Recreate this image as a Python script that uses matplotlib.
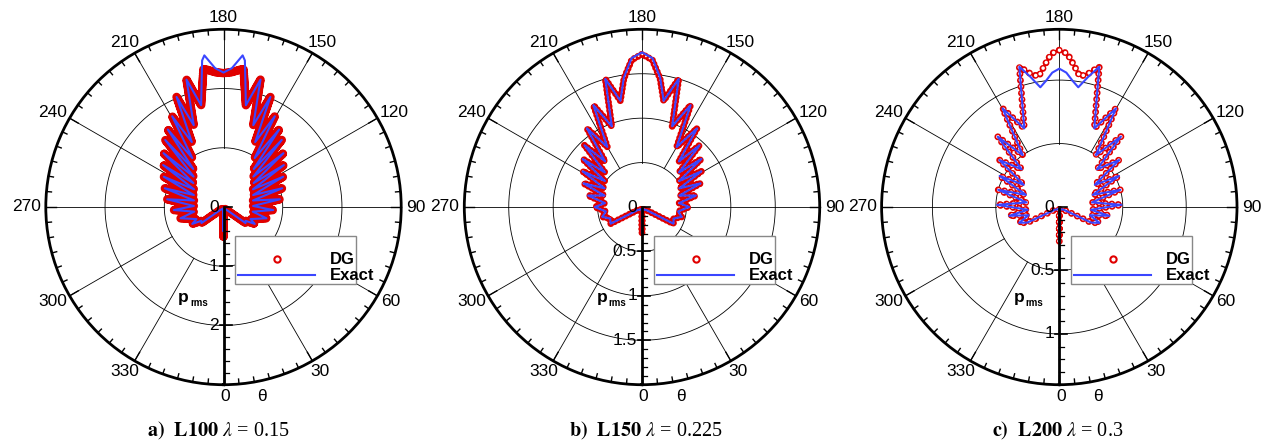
import numpy as np
import matplotlib.pyplot as plt
from matplotlib.patches import Rectangle

plt.rcParams['font.family'] = ['Liberation Sans', 'DejaVu Sans']
plt.rcParams['mathtext.fontset'] = 'stix'

# --- DATA (half pattern, theta 0..180 deg; the plots are mirror symmetric) ---
theta_a = [0, 2, 25, 48, 54, 58, 61.6, 66, 75.3, 81, 86.5, 92, 97.8, 102.5, 107.7, 112,
           116.9, 121, 124.8, 128.5, 131.9, 135.5, 139, 141.5, 144.3, 147.5, 150.5, 154,
           156.9, 160, 163.8, 167.6, 171.7, 172.8, 176.5, 180]
exact_a = [0.40, 0.04, 0.03, 0.08, 0.46, 0.44, 0.60, 0.50, 0.75, 0.50, 0.84, 0.50, 0.96,
           0.51, 1.04, 0.54, 1.13, 0.58, 1.24, 0.65, 1.36, 0.72, 1.50, 0.82, 1.61, 0.98,
           1.76, 1.22, 2.02, 1.47, 2.24, 1.76, 2.50, 2.58, 2.35, 2.27]
dg_a = [0.50, 0.04, 0.03, 0.08, 0.46, 0.44, 0.60, 0.50, 0.75, 0.50, 0.84, 0.50, 0.96,
        0.51, 1.04, 0.54, 1.13, 0.58, 1.24, 0.65, 1.36, 0.72, 1.50, 0.82, 1.61, 0.98,
        1.76, 1.22, 2.02, 1.47, 2.24, 1.76, 2.35, 2.34, 2.28, 2.26]

theta_b = [0, 2, 30, 55, 62, 70, 76, 83, 90, 96, 102, 107, 112, 116.5, 121, 125, 129,
           133, 137, 141, 145, 150, 154.5, 159.5, 164, 168.5, 172, 176, 180]
exact_b = [0.29, 0.03, 0.03, 0.06, 0.40, 0.38, 0.46, 0.41, 0.53, 0.42, 0.62, 0.44, 0.71,
           0.47, 0.78, 0.51, 0.86, 0.57, 0.95, 0.66, 1.08, 0.78, 1.27, 0.97, 1.50, 1.22,
           1.47, 1.68, 1.74]
dg_b = [0.29, 0.03, 0.03, 0.06, 0.40, 0.38, 0.46, 0.41, 0.53, 0.42, 0.62, 0.44, 0.71,
        0.47, 0.78, 0.51, 0.86, 0.57, 0.95, 0.66, 1.08, 0.78, 1.27, 0.97, 1.50, 1.22,
        1.46, 1.66, 1.72]

theta_c = [0, 1.5, 30, 58, 64, 68.5, 75, 80, 85, 92, 98, 105.7, 110, 117.5, 122, 128.1,
           135, 138.8, 144.8, 150.1, 156, 164.1, 167.5, 171, 174, 177, 180]
exact_c = [0.27, 0.02, 0.02, 0.04, 0.28, 0.34, 0.25, 0.40, 0.25, 0.49, 0.26, 0.50, 0.28,
           0.53, 0.33, 0.60, 0.42, 0.737, 0.50, 0.896, 0.678, 1.149, 1.05, 0.955, 1.00,
           1.06, 1.09]
dg_c = [0.27, 0.02, 0.02, 0.04, 0.28, 0.34, 0.25, 0.40, 0.25, 0.49, 0.26, 0.50, 0.28,
        0.53, 0.33, 0.60, 0.42, 0.737, 0.50, 0.896, 0.678, 1.149, 1.08, 1.04, 1.12,
        1.21, 1.236]

r_max = [3.0, 2.0, 1.4]
r_circles = [[1, 2], [0.5, 1.0, 1.5], [0.5, 1.0]]
r_major = [[0, 1, 2], [0, 0.5, 1, 1.5], [0, 0.5, 1]]
r_labels = [['0', '1', '2'], ['0', '0.5', '1', '1.5'], ['0', '0.5', '1']]
r_minor_step = [0.2, 0.1, 0.1]
captions = [r'$\mathbf{a)}$  $\mathbf{L100}$ $\lambda$ = 0.15',
            r'$\mathbf{b)}$  $\mathbf{L150}$ $\lambda$ = 0.225',
            r'$\mathbf{c)}$  $\mathbf{L200}$ $\lambda$ = 0.3']
theta_ticks = list(range(0, 360, 30))

# --- LAYOUT (pixels) ---
W, H = 1266, 441
CX = [223.5, 642.0, 1059.3]
CY = 207.0
R = 177.7
cap_x = [218, 646, 1058]
# DG symbols: ring size (pt), hole size (pt), spacing along the curve (pt)
ring_lw = [6.2, 5.0, 5.0]
hole_lw = [0.0, 1.4, 2.6]
ring_gap = [1.5, 3.0, 4.6]

RED = '#e00000'
BLUE = '#3a46ff'

fig = plt.figure(figsize=(W / 100, H / 100), dpi=100)


def mirror(th, r):
    th = np.asarray(th, float)
    r = np.asarray(r, float)
    full_t = np.concatenate([th, 360 - th[-2::-1]])
    full_r = np.concatenate([r, r[-2::-1]])
    return np.deg2rad(full_t), full_r


data = [(theta_a, exact_a, dg_a), (theta_b, exact_b, dg_b), (theta_c, exact_c, dg_c)]

for i in range(3):
    cx = CX[i]
    rect = [(cx - R) / W, (H - CY - R) / H, 2 * R / W, 2 * R / H]
    ax = fig.add_axes(rect, projection='polar')
    ax.set_theta_zero_location('S')
    ax.set_theta_direction(1)
    rm = r_max[i]
    ax.set_ylim(0, rm)
    ax.grid(False)
    ax.set_xticks([])
    ax.set_yticks([])
    ax.spines['polar'].set_linewidth(2.0)

    tt = np.linspace(0, 2 * np.pi, 400)
    for rc in r_circles[i]:
        ax.plot(tt, np.full_like(tt, rc), color='black', lw=0.6, zorder=1)
    for t in theta_ticks:
        ax.plot([np.deg2rad(t)] * 2, [r_circles[i][0], rm], color='black', lw=0.6, zorder=1)
    # ticks on outer circle
    for t in range(0, 360, 5):
        ln = 10 if t % 30 == 0 else 5
        ax.plot([np.deg2rad(t)] * 2, [rm * (1 - ln / R), rm], color='black', lw=1.0,
                zorder=2, clip_on=False)

    th, ex, dg = data[i]
    t1, r1 = mirror(th, dg)
    t2, r2 = mirror(th, ex)
    # DG: chain of open red circles along the curve
    gap = ring_gap[i]
    ax.plot(t1, r1, color=RED, lw=ring_lw[i], zorder=3, dashes=(0.001, gap / ring_lw[i]),
            dash_capstyle='round', dash_joinstyle='round')
    if hole_lw[i] > 0:
        ax.plot(t1, r1, color='white', lw=hole_lw[i], zorder=3,
                dashes=(0.001, gap / hole_lw[i]), dash_capstyle='round')
    ax.plot(t2, r2, color=BLUE, lw=1.5, zorder=4)

    # cartesian overlay in pixel units centred on the plot
    ov = fig.add_axes(rect)
    ov.set_xlim(-R, R)
    ov.set_ylim(-R, R)
    ov.axis('off')
    s = R / rm
    ov.plot([0, 0], [0, -R], color='black', lw=2.0, solid_capstyle='butt')
    for v, lab in zip(r_major[i], r_labels[i]):
        ov.plot([-4 if v > 0 else 0, 8], [-v * s, -v * s], color='black', lw=1.2)
        ov.text(-5, -v * s, lab, ha='right', va='center', fontsize=12.5)
    v = r_minor_step[i]
    while v < rm - 1e-6:
        if min(abs(v - m) for m in r_major[i]) > 1e-6:
            ov.plot([0, 5], [-v * s, -v * s], color='black', lw=0.9)
        v += r_minor_step[i]

    # theta labels: box pushed just outside the outer circle
    for t in theta_ticks:
        a = np.deg2rad(t)
        lab = str(t)
        w, h = 8.9 * len(lab), 12.0
        d = R + 6
        x = d * np.sin(a) + np.sin(a) * w / 2
        y = -d * np.cos(a) - np.cos(a) * h / 2
        ov.text(x + (1.5 if t == 0 else 0), y, lab, ha='center', va='center',
                fontsize=12.5, clip_on=False)
    ov.text(38.5, -R - 12, '\u03b8', ha='center', va='center', fontsize=12.5, clip_on=False)

    # p_rms label
    ov.text(-45.5, -95, 'p', fontsize=12.5, fontweight='bold', ha='left', va='baseline')
    ov.text(-33.5, -99, 'rms', fontsize=7, fontweight='bold', ha='left', va='baseline')

    # legend box
    lx0, ly0, lw_, lh = 11.5, -77, 121, 48
    ov.add_patch(Rectangle((lx0, ly0), lw_, lh, facecolor='white', edgecolor='#888888',
                           lw=1.0, zorder=5))
    ov.plot([lx0 + 42], [ly0 + lh - 23], 'o', mfc='none', mec=RED, mew=1.5, ms=4.5,
            zorder=6)
    ov.plot([lx0 + 3, lx0 + 80], [ly0 + 9, ly0 + 9], color=BLUE, lw=1.5, zorder=6)
    ov.text(lx0 + 95, ly0 + lh - 23, 'DG', fontsize=12, fontweight='bold', va='center',
            zorder=6)
    ov.text(lx0 + 95, ly0 + 9, 'Exact', fontsize=12, fontweight='bold', va='center',
            zorder=6)

    fig.text(cap_x[i] / W, 1 - 431 / H, captions[i], ha='center', va='center',
             fontsize=14.5, family='Liberation Serif')

fig.savefig('out.png', dpi=100)
